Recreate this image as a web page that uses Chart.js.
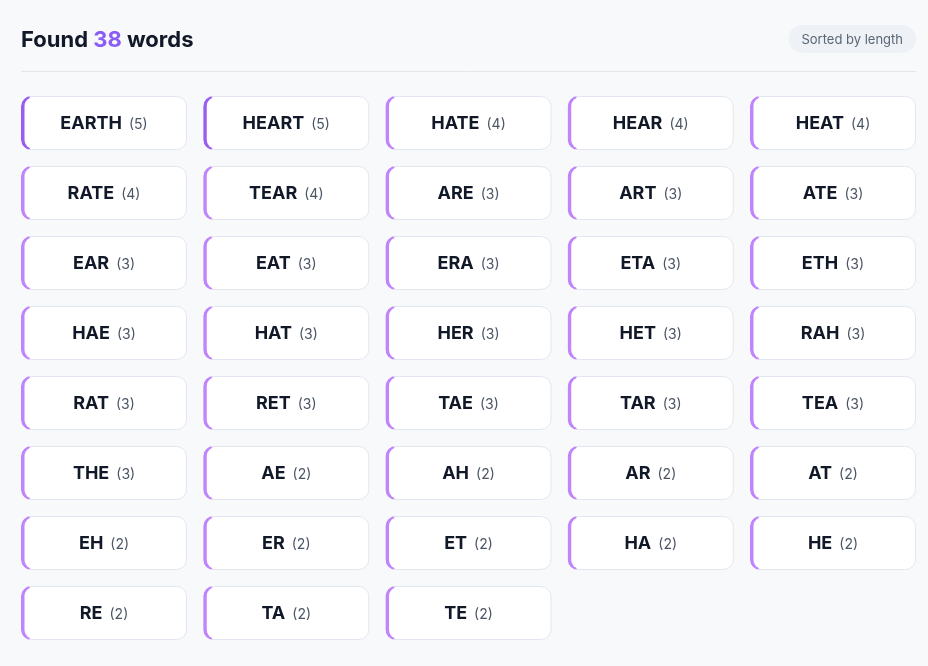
<!DOCTYPE html>
<html><head><meta charset="utf-8">
<script src="https://cdn.jsdelivr.net/npm/chart.js@4.4.1/dist/chart.umd.min.js"></script>
<style>html,body{margin:0;padding:0;background:#f8f9fb;}canvas{display:block}</style>
</head><body><div style="width:928px;height:666px"><canvas id="c" width="928" height="666"></canvas></div>
<script>
const words = ["EARTH","HEART","HATE","HEAR","HEAT","RATE","TEAR","ARE","ART","ATE","EAR","EAT","ERA","ETA","ETH","HAE","HAT","HER","HET","RAH","RAT","RET","TAE","TAR","TEA","THE","AE","AH","AR","AT","EH","ER","ET","HA","HE","RE","TA","TE"];
const lengths = [5,5,4,4,4,4,4,3,3,3,3,3,3,3,3,3,3,3,3,3,3,3,3,3,3,3,2,2,2,2,2,2,2,2,2,2,2,2];
const title = ["Found ","38"," words"];
const badge = "Sorted by length";
const COLS = 5;
const FONT = "Inter, 'Noto Sans', sans-serif";

const points = words.map((w,i)=>({x:i%COLS, y:Math.floor(i/COLS)}));
function rr(ctx,x,y,w,h,r){ctx.beginPath();ctx.moveTo(x+r,y);ctx.arcTo(x+w,y,x+w,y+h,r);ctx.arcTo(x+w,y+h,x,y+h,r);ctx.arcTo(x,y+h,x,y,r);ctx.arcTo(x,y,x+w,y,r);ctx.closePath();}
const cards = {
  id:'cards',
  afterDatasetsDraw(chart){
    const ctx=chart.ctx, xs=chart.scales.x, ys=chart.scales.y;
    ctx.save();
    ctx.textBaseline='alphabetic';
    ctx.font="700 22px "+FONT;
    let x=21;
    title.forEach((t,i)=>{ctx.fillStyle=i===1?'#8b5cf6':'#111827';ctx.fillText(t,x,47);x+=ctx.measureText(t).width;});
    ctx.font="400 13px "+FONT;
    const bw=ctx.measureText(badge).width+26;
    ctx.fillStyle='#eef1f5';rr(ctx,916-bw,25,bw,28,14);ctx.fill();
    ctx.fillStyle='#5b6676';ctx.textAlign='center';ctx.fillText(badge,916-bw/2,44);
    ctx.strokeStyle='#e2e6ec';ctx.lineWidth=1;ctx.beginPath();ctx.moveTo(21,71.5);ctx.lineTo(916,71.5);ctx.stroke();
    points.forEach((p,i)=>{
      const x0=xs.getPixelForValue(p.x), x1=xs.getPixelForValue(p.x+0.911);
      const y0=ys.getPixelForValue(p.y), y1=ys.getPixelForValue(p.y+0.771);
      const w=x1-x0,h=y1-y0;
      ctx.save();
      rr(ctx,x0+0.5,y0+0.5,w-1,h-1,10);
      ctx.fillStyle='#fff';ctx.fill();
      ctx.strokeStyle='#e2e6ee';ctx.lineWidth=1;ctx.stroke();
      rr(ctx,x0,y0,w,h,10);
      ctx.clip();
      ctx.fillStyle=lengths[i]===5?'#9b5cf0':'#c084fc';
      rr(ctx,x0,y0,14,h,10);ctx.fill();
      ctx.fillStyle='#fff';
      rr(ctx,x0+3.5,y0+1,40,h-2,9);ctx.fill();
      ctx.restore();
      ctx.font="700 18px "+FONT;
      const ww=ctx.measureText(words[i]).width;
      const cnt="("+lengths[i]+")";
      ctx.font="400 14px "+FONT;
      const cw=ctx.measureText(cnt).width;
      const tot=ww+7+cw, sx=(x0+x1)/2-tot/2, by=(y0+y1)/2+6;
      ctx.textAlign='left';
      ctx.font="700 18px "+FONT;ctx.fillStyle='#111827';ctx.fillText(words[i],sx,by);
      ctx.font="400 14px "+FONT;ctx.fillStyle='#4b5563';ctx.fillText(cnt,sx+ww+7,by);
    });
    ctx.restore();
  }
};
new Chart(document.getElementById('c'),{
  type:'scatter',
  data:{datasets:[{data:points,pointRadius:0}]},
  options:{responsive:false,animation:false,events:[],
    layout:{padding:{left:21,right:12,top:96,bottom:26}},
    plugins:{legend:{display:false},tooltip:{enabled:false}},
    scales:{x:{display:false,min:0,max:4.911},y:{display:false,min:0,max:7.771,reverse:true}}
  },
  plugins:[cards]
});
</script></body></html>
